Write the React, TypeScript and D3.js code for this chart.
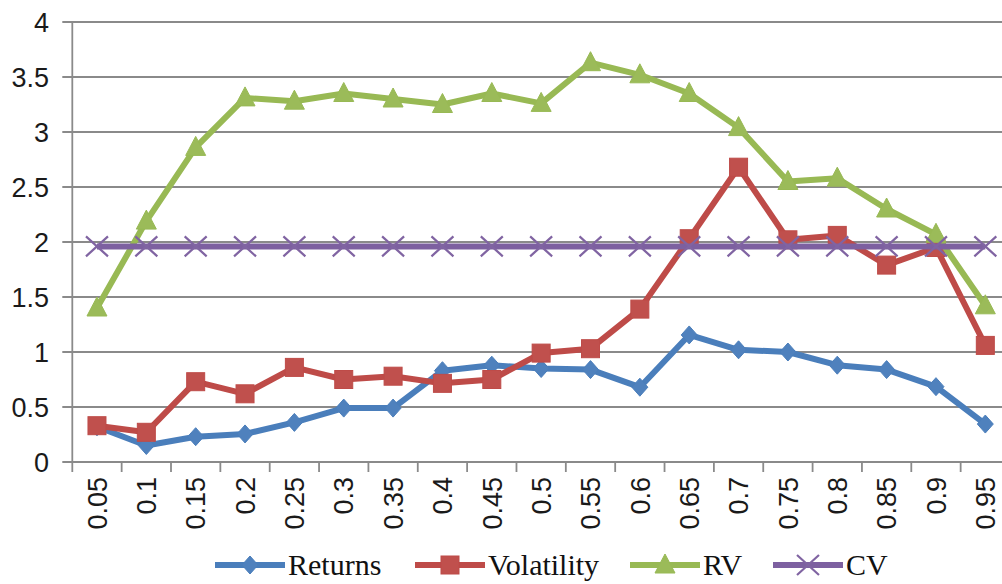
import * as d3 from "d3";
import { useEffect, useRef } from "react";

const categories = ["0.05", "0.1", "0.15", "0.2", "0.25", "0.3", "0.35", "0.4", "0.45", "0.5",
	"0.55", "0.6", "0.65", "0.7", "0.75", "0.8", "0.85", "0.9", "0.95"];
const returns = [0.32, 0.15, 0.23, 0.255, 0.36, 0.49, 0.49, 0.83, 0.88, 0.85, 0.84, 0.68, 1.155, 1.02, 1.0, 0.88, 0.84, 0.685, 0.345];
const volatility = [0.33, 0.27, 0.73, 0.62, 0.86, 0.75, 0.78, 0.715, 0.75, 0.99, 1.03, 1.39, 2.03, 2.68, 2.02, 2.06, 1.79, 1.95, 1.06];
const rv = [1.4, 2.19, 2.86, 3.31, 3.28, 3.35, 3.3, 3.25, 3.35, 3.26, 3.63, 3.52, 3.35, 3.04, 2.55, 2.58, 2.3, 2.07, 1.42];
const cv = [1.96, 1.96, 1.96, 1.96, 1.96, 1.96, 1.96, 1.96, 1.96, 1.96, 1.96, 1.96, 1.96, 1.96, 1.96, 1.96, 1.96, 1.96, 1.96];
const yTicks = [0, 0.5, 1, 1.5, 2, 2.5, 3, 3.5, 4];

const series = [
	{ name: "Returns", values: returns, line: "#4A7EBB", fill: "#4F81BD", marker: "diamond" },
	{ name: "Volatility", values: volatility, line: "#BE4B48", fill: "#C0504D", marker: "square" },
	{ name: "RV", values: rv, line: "#98B954", fill: "#9BBB59", marker: "triangle" },
	{ name: "CV", values: cv, line: "#7D60A0", fill: "#8064A2", marker: "x" },
];
// legend starting x of each entry
const legendX = [215, 415, 630, 773];

function drawMarker(g, kind, color, fill, cx, cy) {
	if (kind === "diamond") {
		g.append("path")
			.attr("d", `M${cx},${cy - 9}L${cx + 8},${cy}L${cx},${cy + 9}L${cx - 8},${cy}Z`)
			.attr("fill", fill).attr("stroke", color).attr("stroke-width", 1);
	} else if (kind === "square") {
		g.append("rect")
			.attr("x", cx - 9).attr("y", cy - 9).attr("width", 18).attr("height", 18)
			.attr("fill", fill).attr("stroke", color).attr("stroke-width", 1);
	} else if (kind === "triangle") {
		g.append("path")
			.attr("d", `M${cx},${cy - 11}L${cx + 10},${cy + 8}L${cx - 10},${cy + 8}Z`)
			.attr("fill", fill).attr("stroke", color).attr("stroke-width", 1);
	} else {
		g.append("path")
			.attr("d", `M${cx - 11},${cy - 10}L${cx + 11},${cy + 10}M${cx - 11},${cy + 10}L${cx + 11},${cy - 10}`)
			.attr("fill", "none").attr("stroke", fill).attr("stroke-width", 2.2);
	}
}

export default function App() {
	const ref = useRef(null);

	useEffect(() => {
		const svg = d3.select(ref.current);
		svg.selectAll("*").remove();

		const left = 72.3, right = 1010, top = 22, bottom = 462;

		const x = d3.scaleBand().domain(categories).range([left, right]);
		const y = d3.scaleLinear().domain([0, 4]).range([bottom, top]);
		const cx = (c) => x(c) + x.bandwidth() / 2;

		// gridlines + y ticks
		svg.append("g").selectAll("line")
			.data(yTicks)
			.enter()
			.append("line")
			.attr("x1", left - 10).attr("x2", right)
			.attr("y1", (d) => y(d)).attr("y2", (d) => y(d))
			.attr("stroke", "#8a8a8a").attr("stroke-width", 1.8);

		svg.append("g").selectAll("text")
			.data(yTicks)
			.enter()
			.append("text")
			.attr("x", 49)
			.attr("y", (d) => y(d))
			.attr("dy", "0.36em")
			.attr("text-anchor", "end")
			.attr("font-family", "Liberation Sans, Arial, sans-serif")
			.attr("font-size", 27)
			.attr("fill", "#1a1a1a")
			.text((d) => d);

		// axes
		svg.append("line")
			.attr("x1", left).attr("x2", left).attr("y1", top).attr("y2", bottom + 10)
			.attr("stroke", "#8a8a8a").attr("stroke-width", 1.8);

		svg.append("g").selectAll("line")
			.data(categories.slice(1))
			.enter()
			.append("line")
			.attr("x1", (d) => x(d)).attr("x2", (d) => x(d))
			.attr("y1", bottom).attr("y2", bottom + 10)
			.attr("stroke", "#8a8a8a").attr("stroke-width", 1.8);

		svg.append("g").selectAll("text")
			.data(categories)
			.enter()
			.append("text")
			.attr("transform", (d) => `translate(${cx(d)},${bottom + 15}) rotate(-90)`)
			.attr("dy", "0.36em")
			.attr("text-anchor", "end")
			.attr("font-family", "Liberation Sans, Arial, sans-serif")
			.attr("font-size", 27)
			.attr("fill", "#1a1a1a")
			.text((d) => d);

		// series
		const line = d3.line().x((d, i) => cx(categories[i])).y((d) => y(d));
		series.forEach((s) => {
			const g = svg.append("g");
			g.append("path")
				.attr("d", line(s.values))
				.attr("fill", "none")
				.attr("stroke", s.line)
				.attr("stroke-width", 6)
				.attr("stroke-linejoin", "round");
			s.values.forEach((v, i) => drawMarker(g, s.marker, s.line, s.fill, cx(categories[i]), y(v)));
		});

		// legend
		const legendY = 565;
		series.forEach((s, i) => {
			const lx = legendX[i];
			const g = svg.append("g");
			g.append("line")
				.attr("x1", lx).attr("x2", lx + 70).attr("y1", legendY).attr("y2", legendY)
				.attr("stroke", s.line).attr("stroke-width", 6);
			drawMarker(g, s.marker, s.line, s.fill, lx + 35, legendY);
			g.append("text")
				.attr("x", lx + 73)
				.attr("y", legendY)
				.attr("dy", "0.33em")
				.attr("font-family", "Liberation Serif, Times New Roman, serif")
				.attr("font-size", 30)
				.attr("fill", "#111")
				.text(s.name);
		});
	}, []);

	return (
		<svg
			ref={ref}
			width={1002}
			height={584}
			style={{ position: "absolute", left: 0, top: 0, background: "#fff" }}
		></svg>
	);
}
